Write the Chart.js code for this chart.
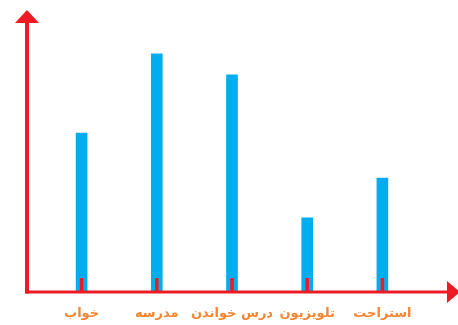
<!DOCTYPE html>
<html>
<head>
<meta charset="utf-8">
<script src="https://cdn.jsdelivr.net/npm/chart.js@4/dist/chart.umd.min.js"></script>
<style>
  html, body { margin: 0; padding: 0; background: #fff; }
  #wrap { width: 458px; height: 325px; }
</style>
</head>
<body>
<div id="wrap"><canvas id="mycanvas"></canvas></div>
<script>
// activities and hours spent on each
var activities = ["خواب", "مدرسه", "درس خواندن", "تلویزیون", "استراحت"];
var hours = [6, 9, 8.2, 2.8, 4.3];

var RED = "#ED1C24";
var BLUE = "#00AEEF";
var ORANGE = "#F58634";

// red axes with arrow heads, plus a short red mark at the foot of every bar
var axesPlugin = {
  id: "arrowAxes",
  afterDatasetsDraw: function(chart) {
    var ctx = chart.ctx;
    var y0 = chart.scales.y.getPixelForValue(0);
    var ax = 27;

    ctx.save();
    ctx.strokeStyle = RED;
    ctx.fillStyle = RED;

    // marks at bar centres
    ctx.lineWidth = 3.5;
    chart.getDatasetMeta(0).data.forEach(function(bar) {
      ctx.beginPath();
      ctx.moveTo(bar.x, y0);
      ctx.lineTo(bar.x, y0 - 14);
      ctx.stroke();
    });

    // vertical axis
    ctx.lineWidth = 4;
    ctx.beginPath();
    ctx.moveTo(ax, y0 + 1.5);
    ctx.lineTo(ax, 22);
    ctx.stroke();
    ctx.beginPath();
    ctx.moveTo(ax, 10);
    ctx.lineTo(ax - 12, 23);
    ctx.lineTo(ax + 12, 23);
    ctx.closePath();
    ctx.fill();

    // horizontal axis
    ctx.lineWidth = 3;
    ctx.beginPath();
    ctx.moveTo(ax - 2, y0);
    ctx.lineTo(448, y0);
    ctx.stroke();
    ctx.beginPath();
    ctx.moveTo(460, y0);
    ctx.lineTo(447, y0 - 11);
    ctx.lineTo(447, y0 + 11);
    ctx.closePath();
    ctx.fill();
    ctx.restore();
  }
};

var ctx = document.getElementById("mycanvas");

var BarGraph = new Chart(ctx, {
  type: "bar",
  data: {
    labels: activities,
    datasets: [
      {
        data: hours,
        backgroundColor: BLUE,
        borderWidth: 0,
        barThickness: 11
      }
    ]
  },
  options: {
    responsive: true,
    maintainAspectRatio: false,
    animation: false,
    layout: {
      padding: { left: 44, right: 38, top: 22, bottom: 0 }
    },
    plugins: {
      legend: { display: false },
      tooltip: { enabled: false }
    },
    scales: {
      x: {
        grid: { display: false, drawTicks: false },
        border: { display: false },
        afterFit: function(scale) { scale.height = 33; },
        ticks: {
          color: ORANGE,
          padding: 14,
          maxRotation: 0,
          autoSkip: false,
          font: { family: "DejaVu Sans", size: 13, weight: "bold" }
        }
      },
      y: {
        display: false,
        min: 0,
        max: 10.2
      }
    }
  },
  plugins: [axesPlugin]
});
</script>
</body>
</html>
